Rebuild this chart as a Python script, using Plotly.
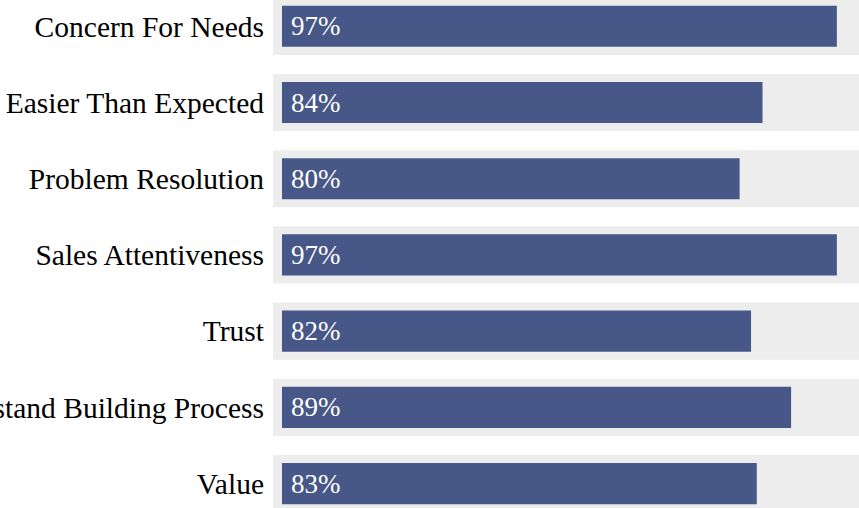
import plotly.graph_objects as go

categories = [
    "Concern For Needs",
    "Easier Than Expected",
    "Problem Resolution",
    "Sales Attentiveness",
    "Trust",
    "Understand Building Process",
    "Value",
]
values = [97, 84, 80, 97, 82, 89, 83]
full_scale = [100] * len(categories)

BAR_COLOR = "#475787"
TRACK_COLOR = "#ededed"
PAD = 1.57  # track padding around the 0-100 scale, in axis units
FONT = "Liberation Serif, Times New Roman, serif"

fig = go.Figure()

# background track (full 100% scale, padded)
fig.add_trace(go.Bar(
    y=categories,
    x=[f + 2 * PAD for f in full_scale],
    base=-PAD,
    orientation="h",
    width=0.75,
    marker=dict(color=TRACK_COLOR, line=dict(width=0)),
    hoverinfo="skip",
    showlegend=False,
))

# value bars
fig.add_trace(go.Bar(
    y=categories,
    x=values,
    orientation="h",
    width=0.54,
    marker=dict(color=BAR_COLOR, line=dict(width=0)),
    showlegend=False,
))

for c, v in zip(categories, values):
    fig.add_annotation(
        x=0, y=c, xref="x", yref="y",
        text=f"{v}%", showarrow=False,
        xanchor="left", yanchor="middle", xshift=7,
        font=dict(family=FONT, size=27, color="white"),
    )

fig.update_layout(
    width=859, height=508,
    margin=dict(l=273, r=0, t=0, b=0, pad=0),
    barmode="overlay",
    plot_bgcolor="white",
    paper_bgcolor="white",
    font=dict(family=FONT, size=29.5, color="black"),
    xaxis=dict(range=[-PAD, 100.87], visible=False, showgrid=False, zeroline=False),
    yaxis=dict(
        type="category",
        range=[6.32, -0.345],
        showgrid=False, zeroline=False, showline=False,
        ticks="", ticklabelstandoff=8,
        automargin=False,
        tickfont=dict(family=FONT, size=29.5, color="black"),
    ),
)

fig.write_html(
    "out.html",
    config={"displayModeBar": False},
    post_script="document.body.style.margin='0';document.body.style.padding='0';",
)
